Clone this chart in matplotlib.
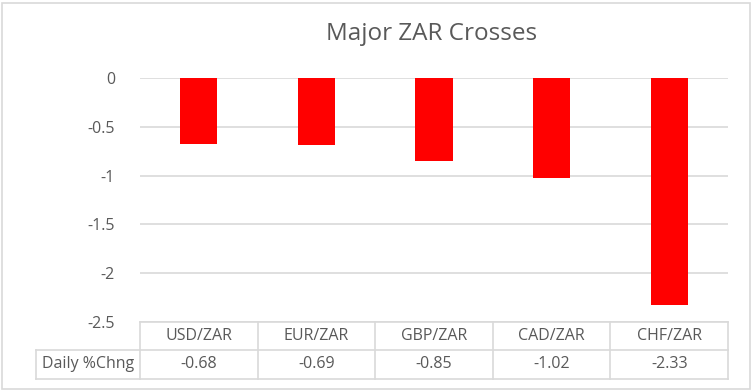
import matplotlib
matplotlib.use("Agg")
import matplotlib.pyplot as plt
from matplotlib.transforms import blended_transform_factory
from matplotlib.patches import Rectangle

categories = ["USD/ZAR", "EUR/ZAR", "GBP/ZAR", "CAD/ZAR", "CHF/ZAR"]
values = [-0.68, -0.69, -0.85, -1.02, -2.33]
series_name = "Daily %Chng"
yticks = [0, -0.5, -1, -1.5, -2, -2.5]
ytick_labels = ["0", "-0.5", "-1", "-1.5", "-2", "-2.5"]
title = "Major ZAR Crosses"

plt.rcParams['font.family'] = ['Open Sans', 'DejaVu Sans']
W, H = 752, 391
fig = plt.figure(figsize=(W / 100, H / 100), dpi=100)
fig.patch.set_facecolor("white")

txt = "#595959"
grid = "#D9D9D9"
fs = 11.5

# outer border
fig.add_artist(Rectangle((2 / W, 2 / H), (W - 4) / W, (H - 5) / H, transform=fig.transFigure,
                         fill=False, edgecolor=grid, linewidth=1.2))

left, right, top, bottom = 140, 728, 78, 322
ax = fig.add_axes([left / W, (H - bottom) / H, (right - left) / W, (bottom - top) / H])
x = list(range(len(categories)))
ax.bar(x, values, width=0.315, color="#FF0000", zorder=3)
ax.set_xlim(-0.5, len(categories) - 0.5)
ax.set_ylim(-2.5, 0)
ax.set_yticks(yticks)
ax.set_yticklabels(ytick_labels, color=txt, fontsize=fs)
ax.tick_params(axis="y", length=0, pad=18)
ax.set_xticks([])
for s in ax.spines.values():
    s.set_visible(False)
ax.grid(axis="y", color=grid, linewidth=1.2, zorder=0)
ax.set_axisbelow(True)

fig.text(432 / W, (H - 34) / H, title, ha="center", va="center",
         fontsize=17.5, color=txt)

# data table below axes: x in data coords, y in figure pixels
tr = blended_transform_factory(ax.transData, fig.transFigure)
def fy(py):
    return (H - py) / H

row1_top, row1_bot, row2_bot = 322, 350, 379
n = len(categories)
lw = 1.2
for yy in (row1_top, row1_bot, row2_bot):
    ax.plot([-0.5, n - 0.5], [fy(yy)] * 2, transform=tr, color=grid, lw=lw, clip_on=False)
for i in range(n + 1):
    ax.plot([i - 0.5, i - 0.5], [fy(row1_top), fy(row2_bot)], transform=tr, color=grid,
            lw=lw, clip_on=False)
lab_left = 36 / W
fig.add_artist(plt.Line2D([lab_left, left / W], [fy(row1_bot)] * 2, color=grid, lw=lw))
fig.add_artist(plt.Line2D([lab_left, left / W], [fy(row2_bot)] * 2, color=grid, lw=lw))
fig.add_artist(plt.Line2D([lab_left, lab_left], [fy(row1_bot), fy(row2_bot)], color=grid, lw=lw))
fig.text((lab_left * W + left) / 2 / W, fy((row1_bot + row2_bot) / 2), series_name,
         ha="center", va="center", fontsize=fs, color=txt)

for i, (c, v) in enumerate(zip(categories, values)):
    ax.text(i, fy((row1_top + row1_bot) / 2), c, transform=tr, ha="center", va="center",
            fontsize=fs, color=txt)
    ax.text(i, fy((row1_bot + row2_bot) / 2), f"{v:.2f}", transform=tr, ha="center",
            va="center", fontsize=fs, color=txt)

fig.savefig("out.png", dpi=100)
